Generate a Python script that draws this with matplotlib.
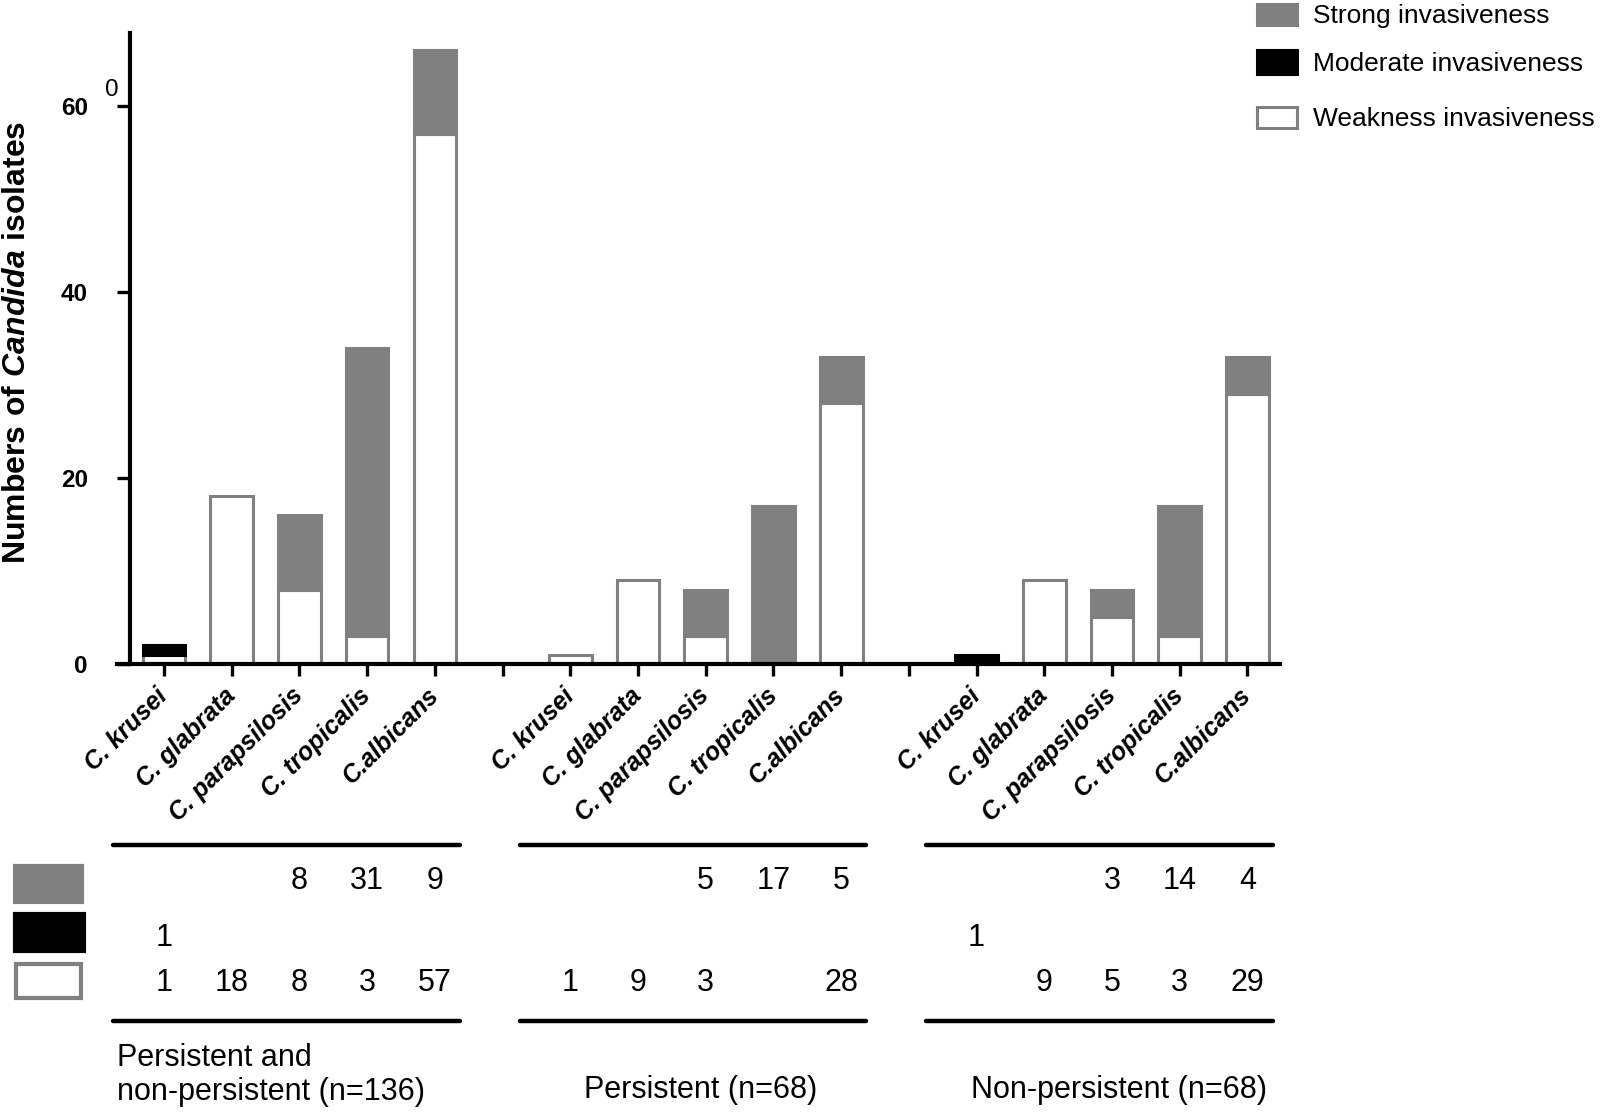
import matplotlib
matplotlib.use("Agg")
import matplotlib.pyplot as plt
from matplotlib.patches import Rectangle
from matplotlib.lines import Line2D
from matplotlib.transforms import blended_transform_factory
import numpy as np

plt.rcParams['font.family'] = ['Liberation Sans', 'DejaVu Sans']
plt.rcParams['mathtext.fontset'] = 'custom'
plt.rcParams['mathtext.rm'] = 'Liberation Sans:bold'
plt.rcParams['mathtext.bf'] = 'Liberation Sans:bold'
plt.rcParams['mathtext.it'] = 'Liberation Sans:italic:bold'

# ---------------- data ----------------
species = ['C. krusei', 'C. glabrata', 'C. parapsilosis', 'C. tropicalis', 'C.albicans']
groups = ['Persistent and\nnon-persistent (n=136)', 'Persistent (n=68)', 'Non-persistent (n=68)']
strong = [[0, 0, 8, 31, 9], [0, 0, 5, 17, 5], [0, 0, 3, 14, 4]]
moderate = [[1, 0, 0, 0, 0], [0, 0, 0, 0, 0], [1, 0, 0, 0, 0]]
weak = [[1, 18, 8, 3, 57], [1, 9, 3, 0, 28], [0, 9, 5, 3, 29]]
legend_labels = ['Strong invasiveness', 'Moderate invasiveness', 'Weakness invasiveness']
yticks = [0, 20, 40, 60]

GRAY = '#808080'
W, H = 1600, 1113
fig = plt.figure(figsize=(16, 11.13), dpi=100)

def fx(px):
    return px / W

def fy(py):
    return 1 - py / H

# axes placement (pixels)
ax_l, ax_r, ax_t, ax_b = 117, 1280, 33, 664
ax = fig.add_axes([fx(ax_l), fy(ax_b), fx(ax_r - ax_l), (ax_b - ax_t) / H])

n_sp = len(species)
step = n_sp + 1
width = 0.63
for g in range(len(groups)):
    xs = np.arange(n_sp) + g * step
    w = np.array(weak[g], float)
    m = np.array(moderate[g], float)
    s = np.array(strong[g], float)
    mk = w > 0
    ax.bar(xs[mk], w[mk], width, color='white', edgecolor=GRAY, linewidth=2.2, zorder=2)
    mk = m > 0
    ax.bar(xs[mk], m[mk], width, bottom=w[mk], color='black', edgecolor='black', linewidth=2.2, zorder=2)
    mk = s > 0
    ax.bar(xs[mk], s[mk], width, bottom=(w + m)[mk], color=GRAY, edgecolor=GRAY, linewidth=2.2, zorder=2)

n_pos = step * len(groups) - 1
ax.set_xlim(-0.694, 16.48)
ax.set_ylim(0, 67.8)
ax.spines['top'].set_visible(False)
ax.spines['right'].set_visible(False)
ax.spines['left'].set_position(('data', -0.50))
for sp in ['left', 'bottom']:
    ax.spines[sp].set_linewidth(3.0)
    ax.spines[sp].set_zorder(3)

tick_pos = np.arange(n_pos)
tick_labels = []
for p in tick_pos:
    if p % step == n_sp:
        tick_labels.append('')
    else:
        tick_labels.append(species[p % step])
ax.set_xticks(tick_pos)
ax.set_xticklabels(tick_labels, rotation=45, ha='right', va='center',
                   rotation_mode='anchor', fontsize=18, fontweight='bold', fontstyle='italic')
ax.tick_params(axis='x', length=8.6, width=2.4, pad=11.5)
ax.set_yticks(yticks)
ax.set_yticklabels([str(v) for v in yticks], fontsize=17.5, fontweight='bold')
ax.tick_params(axis='y', length=9.4, width=2.4, pad=21)

# stray "0" near the top of the y-axis
fig.text(fx(112), fy(90), '0', fontsize=17.5, ha='center', va='center')

# y label
fig.text(fx(17), fy(342), r'$\mathbf{Numbers\ of\ }\mathit{Candida}\mathbf{\ isolates}$',
         rotation=90, fontsize=23, ha='center', va='center')

# ---------------- legend (top right) ----------------
leg_rects = [(1257, 4, 1297, 25), (1257, 50, 1297, 74), (1257, 107, 1297, 128)]
leg_text_y = [16, 64, 119]
face = [GRAY, 'black', 'white']
edge = [GRAY, 'black', GRAY]
for (x0, y0, x1, y1), ty, lab, fc, ec in zip(leg_rects, leg_text_y, legend_labels, face, edge):
    fig.patches.append(Rectangle((fx(x0), fy(y1)), fx(x1 - x0), (y1 - y0) / H,
                                 transform=fig.transFigure, facecolor=fc, edgecolor=ec,
                                 linewidth=2.2))
    fig.text(fx(1313), fy(ty), lab, fontsize=19, ha='left', va='center')

# ---------------- table below ----------------
tr = blended_transform_factory(ax.transData, fig.transFigure)
line_top, line_bot = fy(845), fy(1021)
row_y = [fy(881), fy(938), fy(983)]
for g in range(len(groups)):
    x0 = g * step - 0.75
    x1 = g * step + 4.37
    for yy in (line_top, line_bot):
        fig.lines.append(Line2D([x0, x1], [yy, yy], transform=tr, color='black',
                                linewidth=3.2, solid_capstyle='round'))
    for r, rowvals in enumerate([strong[g], moderate[g], weak[g]]):
        for i, v in enumerate(rowvals):
            if v:
                fig.text(g * step + i, row_y[r], str(v), transform=tr, fontsize=22,
                         ha='center', va='center')

# group labels
fig.text(fx(117), fy(1075), groups[0], fontsize=22, ha='left', va='center', linespacing=1.2)
fig.text(7.92, fy(1090), groups[1], transform=tr, fontsize=22, ha='center', va='center')
fig.text(14.1, fy(1090), groups[2], transform=tr, fontsize=22, ha='center', va='center')

# table swatches
sw_rects = [(15, 866, 82, 902), (15, 914, 84, 951), (16, 964, 81, 998)]
for (x0, y0, x1, y1), fc, ec in zip(sw_rects, face, edge):
    fig.patches.append(Rectangle((fx(x0), fy(y1)), fx(x1 - x0), (y1 - y0) / H,
                                 transform=fig.transFigure, facecolor=fc, edgecolor=ec,
                                 linewidth=3.0))

fig.savefig('out.png', dpi=100)
